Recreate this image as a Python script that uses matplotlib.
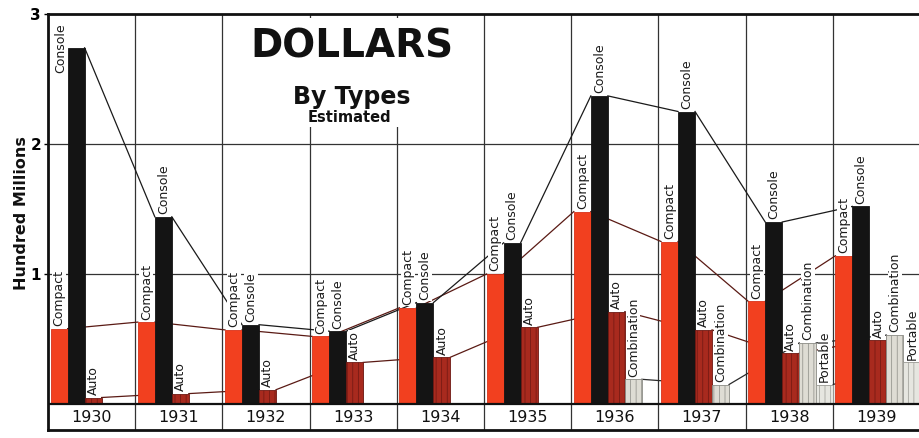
import numpy as np
import matplotlib.pyplot as plt
from matplotlib.patches import Rectangle

#DATA (hundred millions of dollars)
years = [1930, 1931, 1932, 1933, 1934, 1935, 1936, 1937, 1938, 1939]
compact = [0.58, 0.63, 0.57, 0.52, 0.74, 1.00, 1.48, 1.25, 0.79, 1.14]
console = [2.74, 1.44, 0.61, 0.56, 0.78, 1.24, 2.37, 2.25, 1.40, 1.52]
auto = [0.05, 0.08, 0.11, 0.32, 0.36, 0.59, 0.71, 0.57, 0.39, 0.49]
combination = [None, None, None, None, None, None, 0.19, 0.15, 0.47, 0.53]
portable = [None, None, None, None, None, None, None, None, 0.15, 0.32]

#STYLE per type: values, face, edge, hatch, line colour
types = [
    ("Compact", compact, "#f2401f", "#d8321a", None, "#5a1a14"),
    ("Console", console, "#141414", "#141414", None, "#1a1a1a"),
    ("Auto", auto, "#a82a1e", "#6e1812", "|||", "#5a1a14"),
    ("Combination", combination, "#dedcd4", "#8a8a84", "|||", "#2a2a2a"),
    ("Portable", portable, "#e6e6e0", "#9a9a94", "|||", "#2a2a2a"),
]

BAR_W = 0.195
OFFSET = 0.03
YMAX = 3
LABEL_LEN = 0.48   # rough height of a rotated label in data units

plt.rcParams["hatch.linewidth"] = 0.5
fig = plt.figure(figsize=(9.2, 4.38), dpi=100)
ax = fig.add_axes([48 / 920, 8 / 438, 872 / 920, 416 / 438])
ax.set_xlim(0, 10)
ax.set_ylim(-0.2, YMAX)

#GRID
for yv in [1, 2]:
    ax.axhline(yv, color="#333333", lw=0.9, zorder=0.5)
for xv in range(1, 10):
    ax.plot([xv, xv], [-0.2, YMAX], color="#333333", lw=0.9, zorder=0.5)
ax.axhline(0, color="#111111", lw=1.6, zorder=3)

#BARS, CONNECTING LINES, LABELS
for k, (name, vals, face, edge, hatch, lcol) in enumerate(types):
    prev = None
    for i, v in enumerate(vals):
        if v is None:
            continue
        x0 = i + OFFSET + k * BAR_W
        ax.bar(x0, v, width=BAR_W, align="edge", color=face, edgecolor=edge,
               hatch=hatch, lw=0.6, zorder=2)
        if prev is not None:
            ax.plot([prev[0], x0], [prev[1], v], color=lcol, lw=0.9, zorder=1)
        prev = (x0 + BAR_W, v)

        # label sits on the bar top, or beside it when it would run off the top
        lx, ly, va = x0 + BAR_W / 2, v + 0.02, "bottom"
        if v + LABEL_LEN > YMAX:
            lx, ly, va = x0 - BAR_W / 2 + 0.02, YMAX - 0.07, "top"
        ax.text(lx, ly, name, rotation=90, ha="center", va=va, fontsize=9,
                color="#1a1a1a", zorder=4,
                bbox=dict(facecolor="white", edgecolor="none", pad=0.4))

#YEAR STRIP
for i, yr in enumerate(years):
    ax.text(i + 0.5, -0.1, str(yr), ha="center", va="center", fontsize=11.5,
            color="#111111")

#AXES FRAME
for side in ["top", "left", "bottom"]:
    ax.spines[side].set_linewidth(2)
    ax.spines[side].set_color("#111111")
ax.spines["right"].set_visible(False)
ax.set_xticks([])
ax.set_yticks([1, 2, 3])
ax.set_yticklabels(["1", "2", "3"], fontsize=11, fontweight="bold")
ax.tick_params(axis="y", length=3, width=1, pad=2)

#TITLE BLOCK
ax.add_patch(Rectangle((2.06, 2.13), 2.9, 0.84, facecolor="white",
                       edgecolor="none", zorder=1.5))
fig.text(352 / 920, 1 - 46 / 438, "DOLLARS", ha="center", va="center",
         fontsize=28, fontweight="bold", color="#111111")
fig.text(352 / 920, 1 - 97 / 438, "By Types", ha="center", va="center",
         fontsize=17, fontweight="bold", color="#111111")
fig.text(349 / 920, 1 - 118 / 438, "Estimated", ha="center", va="center",
         fontsize=10.5, fontweight="bold", color="#111111")
fig.text(22 / 920, 1 - 213 / 438, "Hundred Millions", rotation=90,
         ha="center", va="center", fontsize=11.5, fontweight="bold",
         color="#111111")

fig.savefig("out.png", dpi=100, facecolor="white")
